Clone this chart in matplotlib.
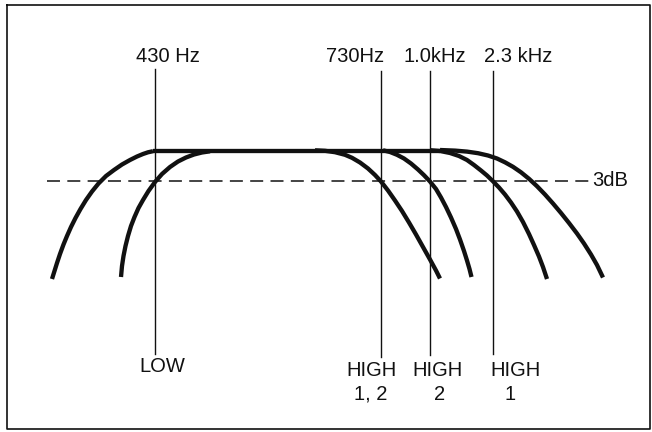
import matplotlib
matplotlib.use("Agg")
import matplotlib.pyplot as plt

plt.rcParams['font.family'] = ['Liberation Sans', 'DejaVu Sans']

# positions (horizontal position, level; level grows downward)
plateau_level = 150.5
minus_3db_level = 181
plateau_start, plateau_end = 153, 440

# rising (low-cut) skirts
low_outer_x = [52, 54.5, 57, 60, 63.5, 67, 71, 75.5, 80.5, 86, 92, 98.5, 106, 114, 122, 130, 137, 143, 148, 153]
low_outer_y = [279, 271, 263, 254, 244.5, 236, 227, 218, 209, 200, 191.5, 183.5, 176, 170, 164.5, 160, 156.5, 154, 152.3, 151.2]
low_inner_x = [121, 122, 123.5, 125.5, 128, 131, 134.5, 138.5, 143, 148.5, 155, 162, 170, 178, 186, 194, 202, 210]
low_inner_y = [277, 266, 256, 246, 236, 226, 217, 208, 200, 191, 182, 174, 167, 161.5, 157.5, 154.5, 152.5, 151.3]

# falling (high-cut) skirts
high_12_x = [315, 325, 335, 345, 352, 360, 368, 375, 381, 388, 395, 402, 409, 416, 423, 430, 436, 440]
high_12_y = [150.3, 150.8, 152.2, 154.8, 157.8, 162.5, 168.5, 175, 181.5, 190.5, 200.5, 211, 222.5, 234.5, 247, 259.5, 270.5, 278.5]
high_2_x = [383, 390, 397, 404, 411, 418, 424, 430, 436, 441, 446, 451, 456, 460, 464, 467, 469.5, 471.5]
high_2_y = [150.3, 152, 154.8, 158.5, 163.5, 169.5, 175.2, 181.5, 189, 197.5, 207, 217.5, 229, 239.5, 251, 260.5, 269, 277]
high_1_x = [430, 440, 450, 459, 467, 474, 481, 487, 493, 499, 505, 511, 517, 523, 529, 534, 539, 543, 547]
high_1_y = [150.2, 151, 153, 156, 160, 165, 170.5, 175.5, 181.3, 187.5, 194.5, 202.5, 211.5, 222, 234, 245, 256.5, 267, 279]
high_wide_x = [440, 455, 467, 478, 488, 497, 505, 513, 521, 529, 537, 545, 553, 561, 569, 577, 584, 591, 597, 603]
high_wide_y = [150, 150.6, 151.6, 153.2, 155.5, 158.5, 162.3, 166.8, 172.3, 178.8, 186.2, 194.5, 203.5, 213, 223, 233.5, 243.5, 254.5, 265, 277.5]

# corner-frequency markers
marker_x = [155, 381, 430, 493]
marker_top = [69, 71, 71, 71]
marker_bottom = [354, 357, 355, 354]
freq_labels = ["430 Hz", "730Hz", "1.0kHz", "2.3 kHz"]
freq_label_x = [168, 355, 435, 518]
switch_names = ["LOW", "HIGH", "HIGH", "HIGH"]
switch_name_x = [162, 371, 438, 515]
switch_name_y = [366.5, 370, 370, 370]
switch_numbers = ["1, 2", "2", "1"]
switch_number_x = [371, 440, 510]

fig = plt.figure(figsize=(6.52, 4.32), dpi=100)
ax = fig.add_axes([0, 0, 1, 1])
ax.set_xlim(0, 652)
ax.set_ylim(432, 0)
ax.axis("off")

ink = "#111111"

# frame
ax.plot([7, 650, 650, 7, 7], [5, 5, 429, 429, 5], color=ink, lw=1.2)

# -3 dB reference
dash = ax.plot([47, 590], [minus_3db_level, minus_3db_level], color=ink, lw=1.1)[0]
dash.set_dashes([8.5, 4.8])
ax.text(592, minus_3db_level - 1, "3dB", fontsize=14.5, color=ink, va="center", ha="left")

# response curves
curve_style = dict(color=ink, lw=3.1, solid_capstyle="butt", solid_joinstyle="round")
ax.plot([plateau_start, plateau_end], [plateau_level, plateau_level], **curve_style)
for xs, ys in [(low_outer_x, low_outer_y), (low_inner_x, low_inner_y),
               (high_12_x, high_12_y), (high_2_x, high_2_y),
               (high_1_x, high_1_y), (high_wide_x, high_wide_y)]:
    ax.plot(xs, ys, **curve_style)

# markers and labels
for x, top, bottom in zip(marker_x, marker_top, marker_bottom):
    ax.plot([x, x], [top, bottom], color=ink, lw=1.0)
for label, x in zip(freq_labels, freq_label_x):
    ax.text(x, 56, label, fontsize=14.5, color=ink, ha="center", va="center")
for label, x, y in zip(switch_names, switch_name_x, switch_name_y):
    ax.text(x, y, label, fontsize=14.5, color=ink, ha="center", va="center")
for label, x in zip(switch_numbers, switch_number_x):
    ax.text(x, 394, label, fontsize=14.5, color=ink, ha="center", va="center")

fig.savefig("out.png", dpi=100, facecolor="white")
